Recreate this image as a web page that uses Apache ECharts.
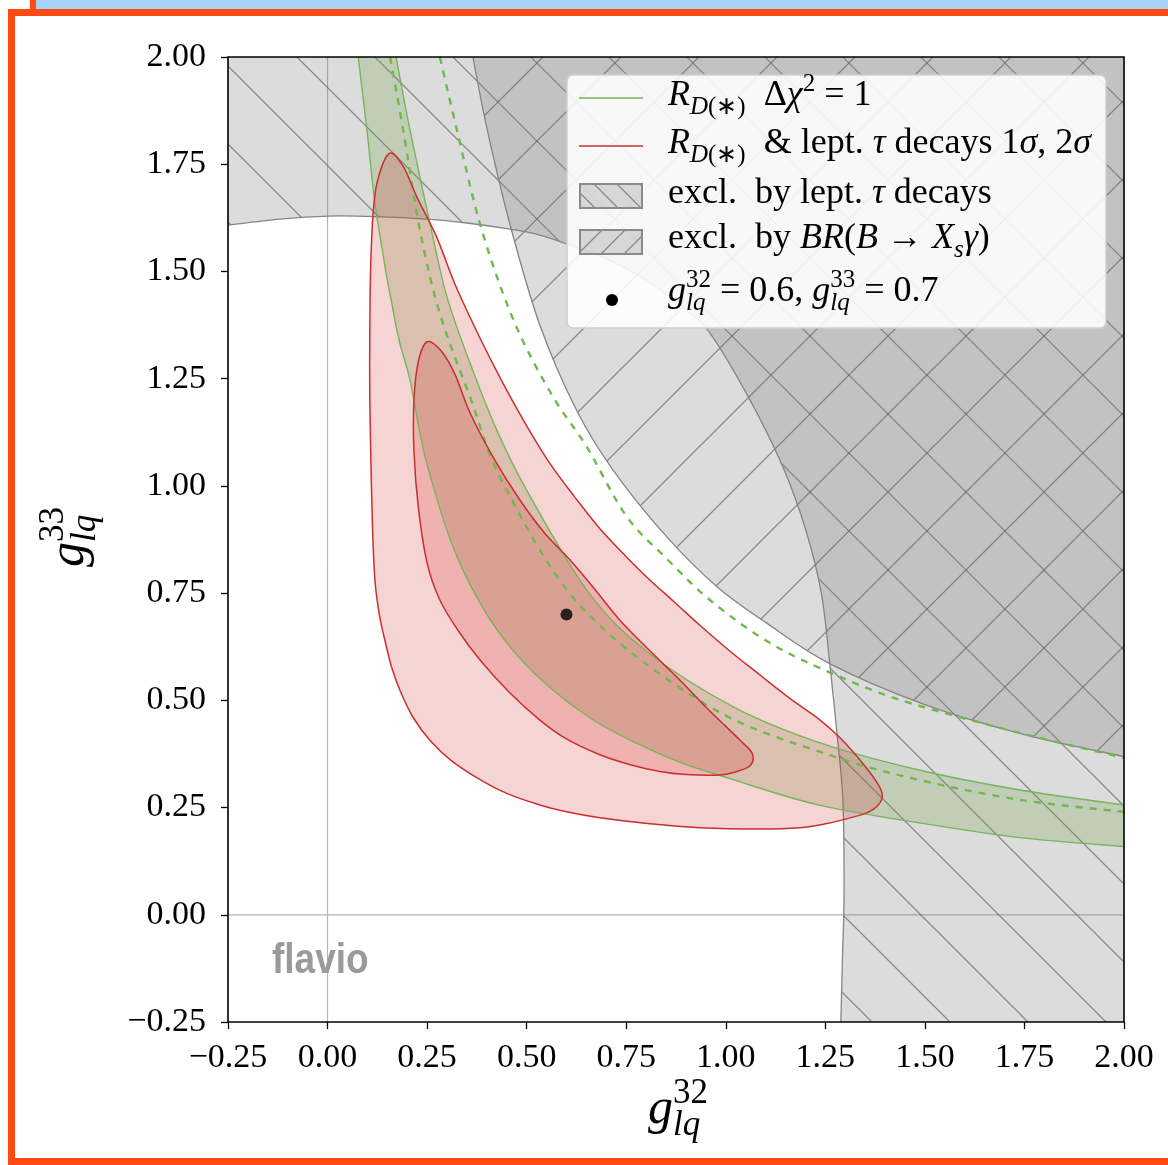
<!DOCTYPE html>
<html>
<head>
<meta charset="utf-8">
<script src="https://cdn.jsdelivr.net/npm/echarts@6/dist/echarts.min.js"></script>
<style>
html,body{margin:0;padding:0;background:#fff;}
#chart{position:absolute;left:0;top:0;width:1168px;height:1165px;}
</style>
</head>
<body>
<div id="chart"></div>
<script>
// axis range
var xMin = -0.25, xMax = 2.0, yMin = -0.25, yMax = 2.0, tickStep = 0.25;

// edge of the region allowed by lept. tau decays (from left edge round to bottom edge)
var tauEdge = [[-0.25,1.608],[-0.12,1.622],[0,1.629],[0.12,1.628],[0.25,1.622],[0.35,1.613],[0.45,1.6],[0.52,1.588],[0.586,1.569],[0.7,1.53],[0.8,1.48],[0.9,1.41],[0.96,1.357],[1.061,1.2],[1.144,1.043],[1.2,0.9],[1.24,0.75],[1.262,0.578],[1.279,0.425],[1.294,0.268],[1.297,0.05],[1.293,-0.1],[1.289,-0.25]];
// edge of the region excluded by BR(B -> Xs gamma)
var bsgEdge = [[0.365,2.0],[0.4,1.835],[0.458,1.61],[0.533,1.375],[0.626,1.175],[0.717,1.037],[0.852,0.881],[0.978,0.765],[1.103,0.68],[1.262,0.585],[1.5,0.49],[1.75,0.42],[2.0,0.369]];
// R_D(*) delta chi2 = 1 band
var greenLow = [[0.077,2.0],[0.099,1.829],[0.124,1.626],[0.174,1.363],[0.207,1.247],[0.249,1.053],[0.332,0.82],[0.458,0.625],[0.642,0.47],[0.852,0.368],[1.019,0.315],[1.237,0.255],[1.488,0.214],[1.739,0.18],[2.0,0.159]];
var greenUp = [[0.172,2.0],[0.207,1.83],[0.26,1.6],[0.3,1.44],[0.358,1.286],[0.425,1.13],[0.5,0.99],[0.651,0.757],[0.8,0.615],[1.019,0.485],[1.237,0.401],[1.488,0.337],[1.739,0.291],[2.0,0.256]];
var dashIn = [[0.157,2.0],[0.19,1.829],[0.232,1.596],[0.282,1.402],[0.358,1.207],[0.441,1.006],[0.639,0.716],[0.96,0.485],[1.262,0.372],[1.488,0.314],[1.739,0.268],[2.0,0.24]];
var dashOut = [[0.282,2.0],[0.325,1.829],[0.38,1.62],[0.44,1.45],[0.5,1.32],[0.576,1.193],[0.651,1.091],[0.75,0.93],[0.852,0.83],[0.96,0.734],[1.1,0.64],[1.237,0.575],[1.438,0.501],[1.739,0.424],[2.0,0.366]];
// R_D(*) & lept. tau decays, 2 sigma and 1 sigma contours
var red2s = [[0.155,1.775],[0.19,1.745],[0.224,1.674],[0.274,1.58],[0.32,1.47],[0.38,1.35],[0.44,1.24],[0.5,1.14],[0.56,1.05],[0.62,0.975],[0.684,0.9],[0.75,0.835],[0.81,0.78],[0.87,0.73],[0.935,0.675],[1.01,0.615],[1.086,0.559],[1.16,0.505],[1.237,0.454],[1.29,0.41],[1.337,0.361],[1.375,0.315],[1.392,0.285],[1.388,0.262],[1.36,0.24],[1.312,0.226],[1.25,0.212],[1.186,0.203],[1.086,0.2],[0.935,0.203],[0.81,0.212],[0.684,0.226],[0.6,0.24],[0.533,0.256],[0.45,0.283],[0.383,0.315],[0.31,0.36],[0.257,0.407],[0.215,0.46],[0.182,0.523],[0.16,0.58],[0.144,0.64],[0.13,0.7],[0.119,0.78],[0.113,0.9],[0.109,1.05],[0.106,1.2],[0.106,1.35],[0.108,1.5],[0.114,1.63],[0.125,1.71]];
var red1s = [[0.25,1.336],[0.285,1.315],[0.32,1.26],[0.358,1.17],[0.42,1.06],[0.483,0.967],[0.545,0.89],[0.609,0.827],[0.67,0.76],[0.734,0.687],[0.81,0.615],[0.885,0.547],[0.96,0.475],[1.036,0.407],[1.067,0.375],[1.06,0.347],[1.02,0.332],[0.985,0.326],[0.9,0.327],[0.835,0.334],[0.76,0.35],[0.684,0.373],[0.6,0.41],[0.533,0.454],[0.455,0.52],[0.383,0.594],[0.33,0.66],[0.282,0.734],[0.25,0.82],[0.228,0.95],[0.217,1.08],[0.217,1.2],[0.228,1.29]];
var bestPoint = [[0.6, 0.7]];

var green = '#76b65a', greenDash = '#72b84f', red = '#c8302f';
var serif = 'Liberation Serif';

// hatch tiles, lined up on the canvas origin
function makeHatch(dir, step, phase){
  var c = document.createElement('canvas');
  c.width = step; c.height = step;
  var g = c.getContext('2d');
  g.fillStyle = 'rgba(128,128,128,0.28)';
  g.fillRect(0, 0, step, step);
  g.strokeStyle = 'rgba(100,100,100,0.75)';
  g.lineWidth = 1.2;
  for (var k = -1; k <= 1; k++){
    g.beginPath();
    if (dir == 'back'){ g.moveTo(0, phase + step*k); g.lineTo(step, phase + step*(k+1)); }
    else { g.moveTo(0, phase + step*k); g.lineTo(step, phase + step*(k-1)); }
    g.stroke();
  }
  return {image: c, repeat: 'repeat'};
}
var hatchBack = makeHatch('back', 78, 72);
var hatchFwd = makeHatch('fwd', 78, 54);
var legBack = makeHatch('back', 23, 4);
var legFwd = makeHatch('fwd', 23, 4);

// smooth path through pixel points
function curvePath(pts, closed, start){
  var n = pts.length, d = (start === false ? 'L' : 'M') + pts[0][0].toFixed(2) + ' ' + pts[0][1].toFixed(2);
  for (var i = 0; i < (closed ? n : n-1); i++){
    var p0 = pts[closed ? (i-1+n)%n : Math.max(i-1, 0)];
    var p1 = pts[i];
    var p2 = pts[(i+1)%n];
    var p3 = pts[closed ? (i+2)%n : Math.min(i+2, n-1)];
    d += 'C' + (p1[0] + (p2[0]-p0[0])/6).toFixed(2) + ' ' + (p1[1] + (p2[1]-p0[1])/6).toFixed(2) + ' ' +
         (p2[0] - (p3[0]-p1[0])/6).toFixed(2) + ' ' + (p2[1] - (p3[1]-p1[1])/6).toFixed(2) + ' ' +
         p2[0].toFixed(2) + ' ' + p2[1].toFixed(2);
  }
  if (closed) d += 'Z';
  return d;
}
function lineTo(p){ return 'L' + p[0].toFixed(2) + ' ' + p[1].toFixed(2); }

function shapeSeries(build, style){
  return {
    type: 'custom', silent: true, data: [[0, 0]],
    renderItem: function(params, api){
      var px = function(list){ return list.map(function(p){ return api.coord(p); }); };
      return {type: 'path', shape: {pathData: build(px, api)}, style: style};
    }
  };
}

// text helpers
var mctx = document.createElement('canvas').getContext('2d');
function textWidth(str, size, it){
  mctx.font = (it ? 'italic ' : '') + size + 'px "' + serif + '"';
  return mctx.measureText(str).width;
}
function txt(x, base, size, str, it){
  return {type: 'text', x: x, y: base - 0.34*size, z: 20, silent: true,
    style: {text: str, fontSize: size, fontFamily: serif, fontStyle: it ? 'italic' : 'normal',
      fill: '#000', align: 'left', verticalAlign: 'middle', textAlign: 'left', textVerticalAlign: 'middle'}};
}
function mathRow(x, base, size, toks, out){
  var cx = x, stackStart = null, stackEnd = 0;
  toks.forEach(function(tk){
    var str = tk[0], f = tk[1] || '';
    var script = f.indexOf('b') >= 0 || f.indexOf('p') >= 0;
    var s = script ? Math.round(size*0.7) : size;
    var dy = f.indexOf('b') >= 0 ? 0.22*size : (f.indexOf('p') >= 0 ? -0.42*size : 0);
    var it = f.indexOf('i') >= 0;
    var sx = stackStart !== null ? stackStart : cx;
    out.push(txt(sx, base + dy, s, str, it));
    var end = sx + textWidth(str, s, it);
    if (f.indexOf('s') >= 0){ stackStart = sx; stackEnd = end; cx = end; }
    else if (stackStart !== null){ cx = Math.max(end, stackEnd); stackStart = null; }
    else cx = end;
  });
  return cx;
}

var gfx = [];
// screenshot frame
gfx.push({type: 'rect', z: 30, shape: {x: 36, y: 0, width: 1132, height: 9}, style: {fill: '#a7d3f8'}});
gfx.push({type: 'rect', z: 30, shape: {x: 30, y: 0, width: 6, height: 9}, style: {fill: '#ff4a14'}});
gfx.push({type: 'rect', z: 30, shape: {x: 11.5, y: 12.5, width: 1300, height: 1149}, style: {fill: 'none', stroke: '#ff4a14', lineWidth: 7}});
// plot frame
gfx.push({type: 'rect', z: 15, shape: {x: 228, y: 57, width: 896, height: 965}, style: {fill: 'none', stroke: '#000', lineWidth: 1.6}});
// watermark
gfx.push({type: 'text', x: 272, y: 961, z: 15, scaleX: 0.86, style: {text: 'flavio', fontSize: 43, fontWeight: 'bold',
  fontFamily: '"Liberation Sans Narrow", "Liberation Sans"', fill: '#9a9a9a', verticalAlign: 'middle', textVerticalAlign: 'middle'}});

// legend
gfx.push({type: 'rect', z: 18, shape: {x: 567, y: 75, width: 539, height: 253, r: 6}, style: {fill: 'rgba(255,255,255,0.88)', stroke: '#d0d0d0', lineWidth: 1.5}});
gfx.push({type: 'line', z: 19, shape: {x1: 579, y1: 98, x2: 643, y2: 98}, style: {stroke: green, lineWidth: 1.5}});
gfx.push({type: 'line', z: 19, shape: {x1: 579, y1: 146, x2: 643, y2: 146}, style: {stroke: red, lineWidth: 1.5}});
gfx.push({type: 'rect', z: 19, shape: {x: 580, y: 184, width: 62, height: 24}, style: {fill: legBack, stroke: '#8a8a8a', lineWidth: 2}});
gfx.push({type: 'rect', z: 19, shape: {x: 580, y: 230, width: 62, height: 24}, style: {fill: legFwd, stroke: '#8a8a8a', lineWidth: 2}});
gfx.push({type: 'circle', z: 19, shape: {cx: 612, cy: 300, r: 6}, style: {fill: '#000'}});
var ls = 36;
mathRow(668, 108, ls, [['R','i'],['D','ib'],['(∗)','b'],['  Δ'],['χ','i'],['2','p'],[' = 1']], gfx);
mathRow(668, 156, ls, [['R','i'],['D','ib'],['(∗)','b'],['  & lept. '],['τ','i'],[' decays 1'],['σ','i'],[', 2'],['σ','i']], gfx);
mathRow(668, 206, ls, [['excl.  by lept. '],['τ','i'],[' decays']], gfx);
mathRow(668, 251, ls, [['excl.  by '],['BR','i'],['('],['B','i'],[' → '],['X','i'],['s','ib'],['γ','i'],[')']], gfx);
mathRow(668, 304, ls, [['g','i'],['32','ps'],['lq','ib'],[' = 0.6, '],['g','i'],['33','ps'],['lq','ib'],[' = 0.7']], gfx);

// axis titles
mathRow(648, 1127, 50, [['g','i'],['32','ps'],['lq','ib']], gfx);
var yt = [];
mathRow(0, 0, 50, [['g','i'],['33','ps'],['lq','ib']], yt);
gfx.push({type: 'group', x: 87, y: 567, rotation: Math.PI/2, z: 20, children: yt});

function tickFmt(v){
  return (v < 0 ? '\u2212' : '') + Math.abs(v).toFixed(2);
}

var option = {
  animation: false,
  backgroundColor: '#fff',
  grid: {left: 228, top: 57, width: 896, height: 965, show: false},
  xAxis: {
    type: 'value', min: xMin, max: xMax, interval: tickStep,
    axisLine: {show: false, onZero: false}, splitLine: {show: false},
    axisTick: {show: true, inside: false, length: 7, lineStyle: {color: '#000', width: 1.3}},
    axisLabel: {formatter: tickFmt, fontFamily: serif, fontSize: 34, color: '#000', margin: 19}
  },
  yAxis: {
    type: 'value', min: yMin, max: yMax, interval: tickStep,
    axisLine: {show: false, onZero: false}, splitLine: {show: false},
    axisTick: {show: true, inside: false, length: 7, lineStyle: {color: '#000', width: 1.3}},
    axisLabel: {formatter: tickFmt, fontFamily: serif, fontSize: 34, color: '#000', margin: 22}
  },
  graphic: {elements: gfx},
  series: [
    // zero lines
    shapeSeries(function(px){
      var a = px([[0, yMin], [0, yMax], [xMin, 0], [xMax, 0]]);
      return 'M' + a[0].join(' ') + lineTo(a[1]) + 'M' + a[2].join(' ') + lineTo(a[3]);
    }, {fill: 'none', stroke: '#b4b4b4', lineWidth: 1.2}),
    // excluded by lept. tau decays
    shapeSeries(function(px){
      var c = px([[xMax, yMin], [xMax, yMax], [xMin, yMax]]);
      return curvePath(px(tauEdge), false) + lineTo(c[0]) + lineTo(c[1]) + lineTo(c[2]) + 'Z';
    }, {fill: hatchBack, stroke: 'none'}),
    // excluded by BR(B -> Xs gamma)
    shapeSeries(function(px){
      var c = px([[xMax, yMax]]);
      return curvePath(px(bsgEdge), false) + lineTo(c[0]) + 'Z';
    }, {fill: hatchFwd, stroke: 'none'}),
    shapeSeries(function(px){ return curvePath(px(tauEdge), false) + 'M' + curvePath(px(bsgEdge), false).slice(1); },
      {fill: 'none', stroke: '#858585', lineWidth: 1.3}),
    // green band
    shapeSeries(function(px){
      return curvePath(px(greenLow), false) + curvePath(px(greenUp.slice().reverse()), false, false) + 'Z';
    }, {fill: 'rgba(110,160,70,0.25)', stroke: 'none'}),
    // red fills
    shapeSeries(function(px){ return curvePath(px(red2s), true); }, {fill: 'rgba(214,39,40,0.2)', stroke: 'none'}),
    shapeSeries(function(px){ return curvePath(px(red1s), true); }, {fill: 'rgba(214,39,40,0.2)', stroke: 'none'}),
    // green lines
    shapeSeries(function(px){ return curvePath(px(greenLow), false) + 'M' + curvePath(px(greenUp), false).slice(1); },
      {fill: 'none', stroke: green, lineWidth: 1.4}),
    shapeSeries(function(px){ return curvePath(px(dashIn), false) + 'M' + curvePath(px(dashOut), false).slice(1); },
      {fill: 'none', stroke: greenDash, lineWidth: 2.4, lineDash: [7, 7]}),
    // red contour lines
    shapeSeries(function(px){ return curvePath(px(red2s), true) + 'M' + curvePath(px(red1s), true).slice(1); },
      {fill: 'none', stroke: red, lineWidth: 1.5}),
    {
      type: 'scatter', silent: true, data: bestPoint, symbolSize: 12,
      itemStyle: {color: '#000'}
    }
  ]
};

var chart = echarts.init(document.getElementById('chart'), null, {renderer: 'canvas'});
chart.setOption(option);
</script>
</body>
</html>
